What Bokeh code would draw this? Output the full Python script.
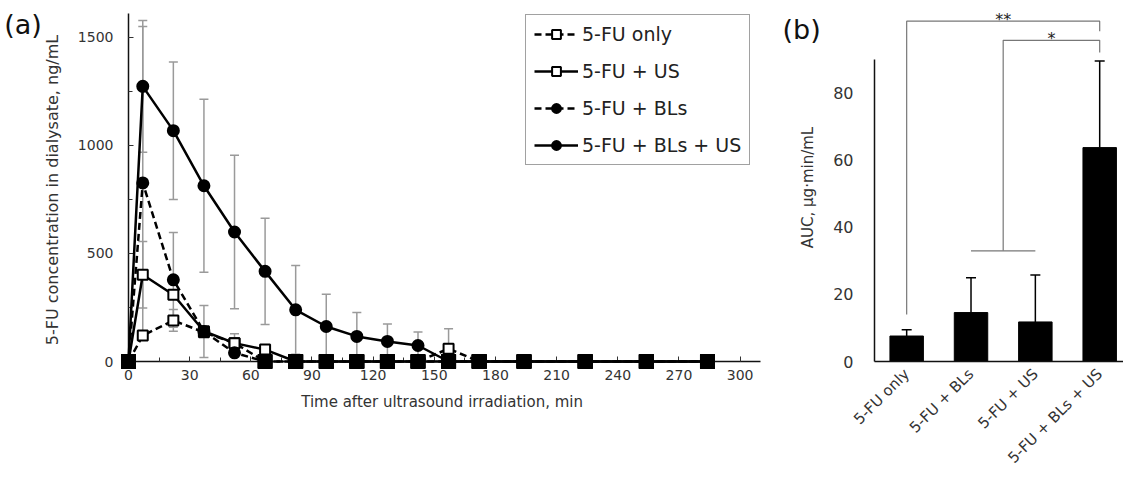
import math
from bokeh.plotting import figure
from bokeh.models import (ColumnDataSource, Whisker, TeeHead, Legend, LegendItem,
                          FixedTicker, Range1d)
from bokeh.layouts import row
from bokeh.embed import file_html
from bokeh.resources import INLINE
from bokeh.core.properties import value

FONT = "DejaVu Sans"

# ---------------- data: panel (a) ----------------
time_min = [0, 7, 22, 37, 52, 67, 82, 97, 112, 127, 142, 157, 172, 194, 224, 254, 284]
fu_only      = [0, 120, 190, 135, 85, 0, 0, 0, 0, 0, 0, 59, 0, 0, 0, 0, 0]
fu_only_sd   = [0, 0, 50, 0, 0, 0, 0, 0, 0, 0, 0, 92, 0, 0, 0, 0, 0]
fu_us        = [0, 401, 309, 140, 85, 55, 0, 0, 0, 0, 0, 0, 0, 0, 0, 0, 0]
fu_us_sd     = [0, 154, 0, 0, 43, 0, 0, 0, 0, 0, 0, 0, 0, 0, 0, 0, 0]
fu_bls       = [0, 826, 378, 139, 40, 0, 0, 0, 0, 0, 0, 0, 0, 0, 0, 0, 0]
fu_bls_sd    = [0, 724, 219, 120, 0, 0, 0, 0, 0, 0, 0, 0, 0, 0, 0, 0, 0]
fu_bls_us    = [0, 1273, 1068, 813, 599, 417, 239, 162, 116, 93, 74, 0, 0, 0, 0, 0, 0]
fu_bls_us_sd = [0, 305, 318, 400, 355, 246, 205, 149, 111, 81, 63, 0, 0, 0, 0, 0, 0]

series_names = ["5-FU only", "5-FU + US", "5-FU + BLs", "5-FU + BLs + US"]
x_ticks_a = list(range(0, 301, 30))
y_ticks_a = [0, 500, 1000, 1500]

# ---------------- data: panel (b) ----------------
groups = ["5-FU only", "5-FU + BLs", "5-FU + US", "5-FU + BLs + US"]
auc = [7.6, 14.6, 11.8, 63.8]
auc_sd = [1.9, 10.4, 14.0, 25.8]
y_ticks_b = [0, 20, 40, 60, 80]
# significance: (left group indices, right group index, label)
sig_left_groups = [[0], [1, 2]]
sig_right_groups = [3, 3]
sig_labels = ["**", "*"]
sig_top = [101.5, 95.8]
sig_left_bottom = [14.0, 33.0]
sig_right_bottom = [98.5, 92.2]

H = 480
TOP = 13
BOTTOM = 119

# ================= panel (a) =================
pa = figure(width=780, height=H, output_backend="svg", toolbar_location=None,
            x_range=Range1d(0, 310), y_range=Range1d(0, 1610),
            min_border_left=128, min_border_right=20, min_border_top=TOP,
            min_border_bottom=BOTTOM)
pa.outline_line_color = None
pa.grid.grid_line_color = None
pa.background_fill_color = "white"
pa.border_fill_color = "white"

for ax in (pa.xaxis[0], pa.yaxis[0]):
    ax.axis_line_color = "#111111"
    ax.axis_line_width = 1.5
    ax.major_tick_line_color = "#333333"
    ax.minor_tick_line_color = "#333333"
    ax.major_tick_in = 5
    ax.major_tick_out = 0
    ax.minor_tick_in = 4
    ax.minor_tick_out = 0
    ax.major_label_text_font = FONT
    ax.major_label_text_font_size = "14px"
    ax.major_label_text_color = "#333333"
    ax.axis_label_text_font = FONT
    ax.axis_label_text_font_style = "normal"
    ax.axis_label_text_color = "#333333"

pa.xaxis.ticker = FixedTicker(ticks=x_ticks_a, minor_ticks=list(range(0, 311, 15)))
pa.yaxis.ticker = FixedTicker(ticks=y_ticks_a, minor_ticks=list(range(0, 1601, 250)))
pa.xaxis.axis_label = "Time after ultrasound irradiation,  min"
pa.yaxis.axis_label = "5-FU concentration in dialysate,  ng/mL"
pa.xaxis.axis_label_text_font_size = "15px"
pa.yaxis.axis_label_text_font_size = "16px"
pa.xaxis.major_label_standoff = 8
pa.yaxis.major_label_standoff = 15
pa.xaxis.axis_label_standoff = 10
pa.yaxis.axis_label_standoff = 13

series_vals = [fu_only, fu_us, fu_bls, fu_bls_us]
series_sds = [fu_only_sd, fu_us_sd, fu_bls_sd, fu_bls_us_sd]
dashes = ["7 4", "solid", "7 4", "solid"]
markers = ["square", "square", "circle", "circle"]
fills = ["white", "white", "black", "black"]
msizes = [10, 10, 11, 11]

# error bars
for vals, sds in zip(series_vals, series_sds):
    xs = [t for t, s in zip(time_min, sds) if s > 0]
    up = [v + s for v, s in zip(vals, sds) if s > 0]
    lo = [max(v - s, 0) for v, s in zip(vals, sds) if s > 0]
    src = ColumnDataSource(dict(x=xs, upper=up, lower=lo))
    w = Whisker(source=src, base="x", upper="upper", lower="lower",
                line_color="#9a9a9a", line_width=1.5,
                upper_head=TeeHead(size=9, line_color="#9a9a9a", line_width=1.5),
                lower_head=TeeHead(size=9, line_color="#9a9a9a", line_width=1.5))
    pa.add_layout(w)

items = []
for name, vals, dash, mk, fc, ms in zip(series_names, series_vals, dashes, markers, fills, msizes):
    src = ColumnDataSource(dict(x=time_min, y=vals))
    lr = pa.line("x", "y", source=src, line_color="black", line_width=2.5, line_dash=dash)
    sr = pa.scatter("x", "y", source=src, marker=mk, size=ms, fill_color=fc,
                    line_color="black", line_width=2)
    lr.level = "overlay"
    sr.level = "overlay"
    items.append(LegendItem(label=name, renderers=[lr, sr]))

# zero-valued points shown as solid squares
zx = []
for vals in series_vals:
    zx += [t for t, v in zip(time_min, vals) if v == 0]
zsrc = ColumnDataSource(dict(x=zx, y=[0] * len(zx)))
zr = pa.scatter("x", "y", source=zsrc, marker="square", size=14, fill_color="black",
                line_color="black")
zr.level = "overlay"

legend = Legend(items=items, location=(397, 196), margin=0, padding=8, spacing=15,
                glyph_width=44, glyph_height=22, label_height=22, label_standoff=4,
                label_text_font=FONT, label_text_font_size="19px", label_text_color="#222222",
                border_line_color="#444444", border_line_width=1.3,
                background_fill_color="white", background_fill_alpha=1.0)
pa.add_layout(legend)

ta = pa.text(x=[-61], y=[1559], text=["(a)"], text_font=value(FONT), text_font_size="27px",
             text_baseline="middle", text_align="left", text_color="#111111")
ta.level = "overlay"

# ================= panel (b) =================
pb = figure(width=343, height=H, output_backend="svg", toolbar_location=None,
            x_range=Range1d(0, 3.87), y_range=Range1d(0, 103.8),
            min_border_left=94, min_border_right=0, min_border_top=TOP,
            min_border_bottom=BOTTOM)
pb.outline_line_color = None
pb.grid.grid_line_color = None
pb.border_fill_color = "white"

xpos = [i + 0.5 for i in range(len(groups))]
bsrc = ColumnDataSource(dict(x=xpos, top=auc, upper=[a + s for a, s in zip(auc, auc_sd)]))
wb = Whisker(source=bsrc, base="x", upper="upper", lower="top", line_color="black",
             line_width=1.5, upper_head=TeeHead(size=10, line_color="black", line_width=1.5),
             lower_head=None)
pb.add_layout(wb)
pb.vbar(x="x", top="top", width=0.52, source=bsrc, fill_color="black", line_color="black")

for ax in (pb.xaxis[0], pb.yaxis[0]):
    ax.axis_line_color = "#111111"
    ax.axis_line_width = 1.5
    ax.major_tick_line_color = None
    ax.minor_tick_line_color = None
    ax.major_label_text_font = FONT
    ax.major_label_text_color = "#333333"
    ax.axis_label_text_font = FONT
    ax.axis_label_text_font_style = "normal"
    ax.axis_label_text_color = "#333333"

pb.yaxis.ticker = FixedTicker(ticks=y_ticks_b)
pb.yaxis.bounds = (0, 90)
pb.yaxis.major_label_text_font_size = "16px"
pb.yaxis.major_label_standoff = 15
pb.yaxis.axis_label = "AUC, μg·min/mL"
pb.yaxis.axis_label_text_font_size = "15px"
pb.yaxis.axis_label_standoff = 13

pb.xaxis.ticker = FixedTicker(ticks=xpos)
pb.xaxis.major_label_overrides = {x: g for x, g in zip(xpos, groups)}
pb.xaxis.major_label_orientation = math.pi / 4
pb.xaxis.major_label_text_font_size = "15px"
pb.xaxis.major_label_standoff = 4

# significance brackets
bxs, bys = [], []
sx, sy = [], []
for lg, rg, top, lb, rb in zip(sig_left_groups, sig_right_groups, sig_top,
                               sig_left_bottom, sig_right_bottom):
    xl = sum(xpos[i] for i in lg) / len(lg)
    xr = xpos[rg]
    bxs.append([xl, xl, xr, xr])
    bys.append([lb, top, top, rb])
    if len(lg) > 1:
        bxs.append([xpos[lg[0]], xpos[lg[-1]]])
        bys.append([lb, lb])
    sx.append((xl + xr) / 2)
    sy.append(top + 0.6)
br = pb.multi_line(bxs, bys, line_color="#777777", line_width=1.2)
br.level = "overlay"
st = pb.text(x=sx, y=sy, text=sig_labels, text_font=value(FONT), text_font_size="16px",
             text_align="center", text_baseline="middle", text_color="#222222")
st.level = "overlay"

tb = pb.text(x=[-1.43], y=[99.1], text=["(b)"], text_font=value(FONT), text_font_size="27px",
             text_baseline="middle", text_align="left", text_color="#111111")
tb.level = "overlay"

layout = row(pa, pb)
open("out.html", "w").write(file_html(layout, INLINE))
